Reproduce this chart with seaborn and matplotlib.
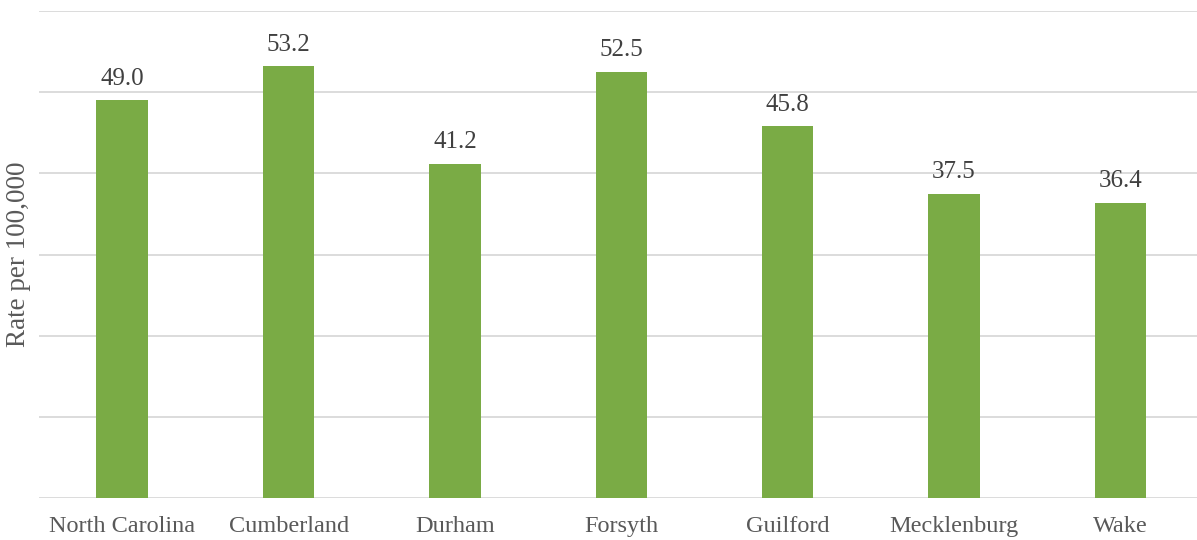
"""Rate per 100,000 by county, bar chart."""

import matplotlib

matplotlib.use("Agg")
import matplotlib.pyplot as plt
import pandas as pd
import seaborn as sns

counties = ["North Carolina", "Cumberland", "Durham", "Forsyth", "Guilford", "Mecklenburg", "Wake"]
rates = [49.0, 53.2, 41.2, 52.5, 45.8, 37.5, 36.4]
y_ticks = [0, 10, 20, 30, 40, 50, 60]

BAR_COLOR = "#7AAB45"
GRID_COLOR = "#D9D9D9"
TEXT_COLOR = "#404040"

sns.set_theme(style="white")
plt.rcParams["font.family"] = ["Liberation Serif", "DejaVu Serif"]

df = pd.DataFrame({"County": counties, "Rate": rates})

fig = plt.figure(figsize=(11.97, 5.40), dpi=100)
ax = fig.add_axes([39 / 1197, 42 / 540, (1197 - 39) / 1197, (498 - 11) / 540])

sns.barplot(data=df, x="County", y="Rate", color=BAR_COLOR, saturation=1, width=0.31,
            linewidth=0, ax=ax, zorder=3)

ax.set_ylim(0, 60)
ax.set_xlim(-0.5, 6.46)
ax.set_yticks(y_ticks)
ax.yaxis.grid(True, color=GRID_COLOR, linewidth=1.3, zorder=0)
ax.set_axisbelow(True)
ax.tick_params(axis="y", left=False, labelleft=False)
ax.tick_params(axis="x", bottom=False, labelsize=17.5, labelcolor="#595959", pad=7)
for side in ["left", "right", "top", "bottom"]:
    ax.spines[side].set_visible(False)

ax.set_xlabel("")
ax.set_ylabel("Rate per 100,000", fontsize=19.5, color="#595959", labelpad=6)

for idx, value in enumerate(rates):
    ax.text(idx, value + 1.3, f"{value:.1f}", ha="center", va="bottom", fontsize=18, color=TEXT_COLOR)

fig.savefig("out.png", dpi=100)
plt.close(fig)
